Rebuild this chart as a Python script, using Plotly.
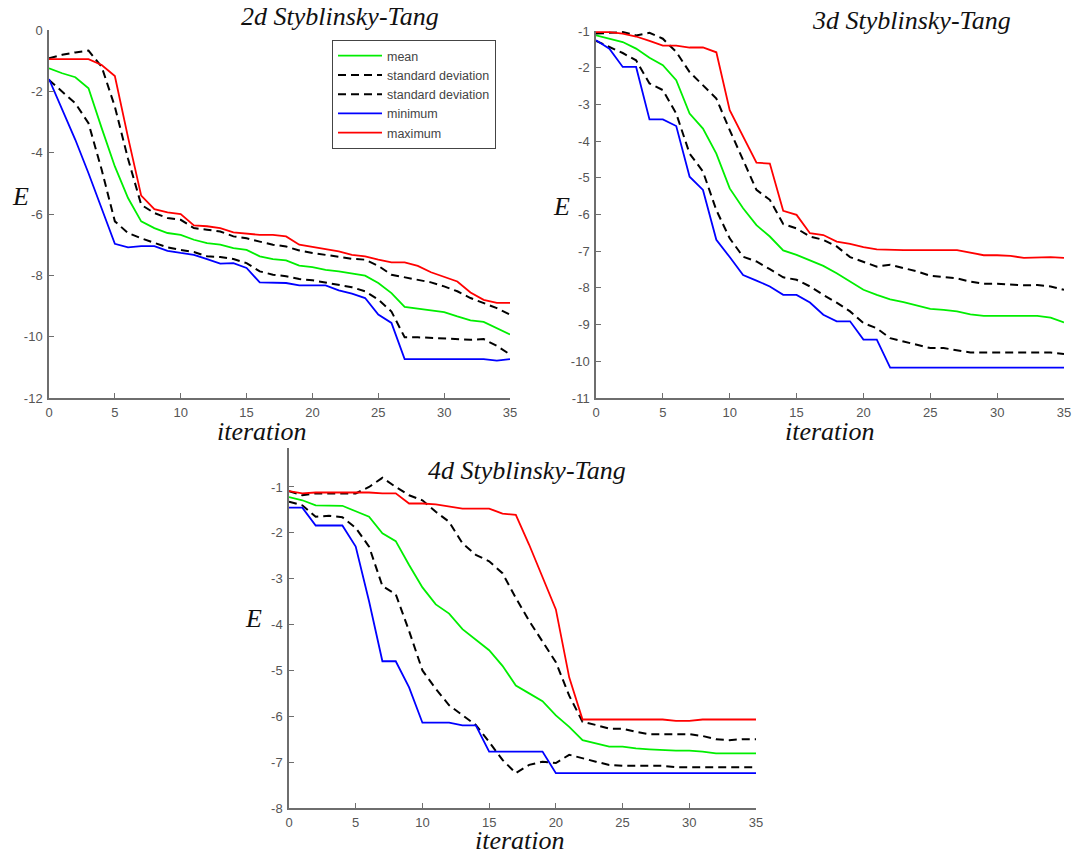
import plotly.graph_objects as go

iterations = list(range(36))

# ---- 2d Styblinsky-Tang ----
mean_2d = [-1.25, -1.41, -1.54, -1.9, -3.2, -4.45, -5.48, -6.24, -6.46, -6.62, -6.68, -6.84, -6.95, -7.0,
           -7.11, -7.17, -7.38, -7.47, -7.51, -7.68, -7.73, -7.82, -7.87, -7.93, -8.01, -8.25, -8.58, -9.03,
           -9.08, -9.14, -9.2, -9.34, -9.47, -9.52, -9.72, -9.93]
std_up_2d = [-0.92, -0.81, -0.73, -0.67, -1.2, -2.5, -4.2, -5.7, -5.97, -6.13, -6.19, -6.46, -6.51, -6.57,
             -6.73, -6.79, -6.9, -7.0, -7.06, -7.19, -7.27, -7.34, -7.4, -7.46, -7.49, -7.69, -7.98, -8.07,
             -8.14, -8.23, -8.36, -8.52, -8.74, -8.9, -9.07, -9.28]
std_low_2d = [-1.63, -2.0, -2.39, -3.04, -4.56, -6.24, -6.62, -6.79, -6.93, -7.09, -7.17, -7.24, -7.38, -7.4,
              -7.47, -7.6, -7.87, -7.98, -8.03, -8.12, -8.16, -8.23, -8.3, -8.39, -8.52, -8.79, -9.18, -10.02,
              -10.02, -10.04, -10.04, -10.08, -10.1, -10.08, -10.3, -10.58]
min_2d = [-1.6, -2.6, -3.58, -4.67, -5.8, -6.97, -7.09, -7.05, -7.05, -7.2, -7.27, -7.33, -7.47, -7.62,
          -7.6, -7.76, -8.23, -8.23, -8.25, -8.33, -8.33, -8.33, -8.49, -8.6, -8.74, -9.28, -9.55, -10.73,
          -10.73, -10.73, -10.73, -10.73, -10.73, -10.73, -10.78, -10.73]
max_2d = [-0.95, -0.95, -0.95, -0.95, -1.14, -1.5, -3.5, -5.4, -5.84, -5.95, -6.0, -6.37, -6.4, -6.46,
          -6.6, -6.65, -6.68, -6.68, -6.73, -7.0, -7.08, -7.14, -7.22, -7.33, -7.38, -7.49, -7.58, -7.58,
          -7.69, -7.9, -8.06, -8.2, -8.56, -8.8, -8.9, -8.9]

# ---- 3d Styblinsky-Tang ----
mean_3d = [-1.12, -1.21, -1.3, -1.48, -1.73, -1.93, -2.34, -3.25, -3.66, -4.34, -5.29, -5.83, -6.29, -6.6,
           -6.98, -7.1, -7.26, -7.4, -7.6, -7.83, -8.05, -8.19, -8.31, -8.39, -8.48, -8.57, -8.6, -8.64,
           -8.72, -8.76, -8.76, -8.76, -8.76, -8.76, -8.81, -8.94]
std_up_3d = [-1.07, -1.05, -1.03, -1.12, -1.05, -1.21, -1.57, -2.12, -2.48, -2.84, -3.7, -4.52, -5.33, -5.6,
             -6.26, -6.38, -6.6, -6.69, -6.87, -7.16, -7.28, -7.42, -7.37, -7.46, -7.55, -7.67, -7.71, -7.74,
             -7.83, -7.89, -7.89, -7.92, -7.93, -7.92, -7.96, -8.05]
std_low_3d = [-1.27, -1.44, -1.6, -1.8, -2.43, -2.61, -3.25, -4.34, -4.83, -5.88, -6.65, -7.15, -7.28, -7.49,
              -7.71, -7.78, -7.96, -8.19, -8.4, -8.64, -8.96, -9.1, -9.37, -9.46, -9.55, -9.64, -9.64, -9.7,
              -9.76, -9.76, -9.76, -9.76, -9.76, -9.76, -9.76, -9.8]
min_3d = [-1.25, -1.48, -1.98, -1.98, -3.41, -3.41, -3.59, -4.97, -5.33, -6.69, -7.16, -7.65, -7.8, -7.96,
          -8.19, -8.19, -8.4, -8.73, -8.91, -8.91, -9.41, -9.41, -10.17, -10.17, -10.17, -10.17, -10.17,
          -10.17, -10.17, -10.17, -10.17, -10.17, -10.17, -10.17, -10.17, -10.17]
max_3d = [-1.03, -1.03, -1.07, -1.15, -1.27, -1.4, -1.4, -1.45, -1.45, -1.58, -3.16, -3.88, -4.59, -4.61,
          -5.9, -6.01, -6.51, -6.56, -6.74, -6.8, -6.89, -6.95, -6.97, -6.97, -6.97, -6.98, -6.97, -6.97,
          -7.04, -7.11, -7.11, -7.13, -7.18, -7.16, -7.16, -7.18]

# ---- 4d Styblinsky-Tang ----
mean_4d = [-1.22, -1.29, -1.4, -1.4, -1.41, -1.53, -1.65, -2.01, -2.18, -2.7, -3.19, -3.56, -3.76, -4.1,
           -4.32, -4.56, -4.9, -5.33, -5.5, -5.67, -5.98, -6.23, -6.52, -6.59, -6.66, -6.66, -6.7, -6.72,
           -6.74, -6.75, -6.75, -6.77, -6.81, -6.81, -6.81, -6.81]
std_up_4d = [-1.09, -1.18, -1.14, -1.14, -1.14, -1.14, -1.0, -0.8, -1.0, -1.18, -1.29, -1.54, -1.76, -2.23,
             -2.48, -2.62, -2.88, -3.42, -3.92, -4.36, -4.82, -5.55, -6.12, -6.19, -6.27, -6.27, -6.34, -6.39,
             -6.39, -6.39, -6.39, -6.43, -6.5, -6.52, -6.5, -6.5]
std_low_4d = [-1.32, -1.4, -1.65, -1.63, -1.66, -1.89, -2.3, -3.16, -3.34, -4.14, -5.0, -5.4, -5.76, -5.98,
              -6.19, -6.56, -6.95, -7.24, -7.06, -6.99, -7.02, -6.84, -6.92, -6.99, -7.06, -7.08, -7.08, -7.08,
              -7.08, -7.11, -7.11, -7.11, -7.11, -7.11, -7.11, -7.11]
min_4d = [-1.45, -1.45, -1.84, -1.84, -1.84, -2.3, -3.49, -4.8, -4.8, -5.37, -6.14, -6.14, -6.14, -6.2,
          -6.2, -6.77, -6.77, -6.77, -6.77, -6.77, -7.24, -7.24, -7.24, -7.24, -7.24, -7.24, -7.24, -7.24,
          -7.24, -7.24, -7.24, -7.24, -7.24, -7.24, -7.24, -7.24]
max_4d = [-1.09, -1.14, -1.12, -1.12, -1.12, -1.12, -1.12, -1.14, -1.14, -1.36, -1.36, -1.38, -1.43, -1.47,
          -1.47, -1.47, -1.58, -1.61, -2.26, -2.98, -3.67, -5.15, -6.07, -6.07, -6.07, -6.07, -6.07, -6.07,
          -6.07, -6.1, -6.1, -6.07, -6.07, -6.07, -6.07, -6.07]

panel_titles = ["2d Styblinsky-Tang", "3d Styblinsky-Tang", "4d Styblinsky-Tang"]
series_names = ["mean", "standard deviation", "standard deviation", "minimum", "maximum"]
x_ticks = [0, 5, 10, 15, 20, 25, 30, 35]
y_ticks_2d = [0, -2, -4, -6, -8, -10, -12]
y_ticks_3d = [-1, -2, -3, -4, -5, -6, -7, -8, -9, -10, -11]
y_ticks_4d = [-1, -2, -3, -4, -5, -6, -7, -8]

panels = [
    [mean_2d, std_up_2d, std_low_2d, min_2d, max_2d],
    [mean_3d, std_up_3d, std_low_3d, min_3d, max_3d],
    [mean_4d, std_up_4d, std_low_4d, min_4d, max_4d],
]

styles = [
    dict(color="#00ee00", width=1.8),
    dict(color="black", width=2, dash="8px,5px"),
    dict(color="black", width=2, dash="8px,5px"),
    dict(color="#0000ff", width=1.8),
    dict(color="#ff0000", width=1.8),
]

W, H = 1074, 855
# pixel boxes: (left, right, top, bottom)
boxes = [(49, 510, 30, 398), (596, 1064, 31, 398), (289, 756, 448, 808)]
y_ranges = [[-12, 0], [-11, -1], [-8, -0.15]]
y_tick_sets = [y_ticks_2d, y_ticks_3d, y_ticks_4d]

fig = go.Figure()

for p, series in enumerate(panels):
    suffix = "" if p == 0 else str(p + 1)
    for s, vals in enumerate(series):
        fig.add_trace(go.Scatter(
            x=iterations, y=vals, mode="lines", name=series_names[s],
            line=styles[s], showlegend=(p == 0),
            xaxis="x" + suffix, yaxis="y" + suffix,
        ))

axis_common = dict(
    showgrid=False, zeroline=False, showline=True, linecolor="#6e6e6e", linewidth=1.5,
    ticks="inside", ticklen=5, tickwidth=1, tickcolor="#6e6e6e",
    tickfont=dict(family="Liberation Sans, Arial", size=13, color="#555555"),
    mirror=False, automargin=False,
)

layout = dict(
    width=W, height=H, margin=dict(l=0, r=0, t=0, b=0, autoexpand=False),
    paper_bgcolor="white", plot_bgcolor="white",
    legend=dict(x=332 / W, y=1 - 40 / H, xanchor="left", yanchor="top",
                bordercolor="#444444", borderwidth=1, bgcolor="white",
                font=dict(family="Liberation Sans, Arial", size=12.5, color="#444444"),
                itemwidth=44, tracegroupgap=0),
)

for p, (l, r, t, b) in enumerate(boxes):
    suffix = "" if p == 0 else str(p + 1)
    xa = dict(axis_common, domain=[l / W, r / W], range=[0, 35], anchor="y" + suffix,
              tickvals=x_ticks, ticktext=[str(v) for v in x_ticks], ticklabelstandoff=2)
    ya = dict(axis_common, domain=[1 - b / H, 1 - t / H], range=y_ranges[p], anchor="x" + suffix,
              tickvals=y_tick_sets[p], ticktext=[str(v) for v in y_tick_sets[p]], ticklabelstandoff=2)
    layout["xaxis" + suffix] = xa
    layout["yaxis" + suffix] = ya

fig.update_layout(**layout)

serif = dict(family="Liberation Serif, Times New Roman, serif", size=26, color="#111111", style="italic")
label_pos = [
    # (title x, title y, E x, E y, iteration x, iteration y)
    (340, 16, 20, 197, 262, 431),
    (911, 20, 561, 207, 830, 431),
    (527, 470, 253, 618, 520, 840),
]
for p, (tx, ty, ex, ey, ix, iy) in enumerate(label_pos):
    fig.add_annotation(text=panel_titles[p], x=tx / W, y=1 - ty / H, xref="paper", yref="paper",
                       showarrow=False, font=serif, xanchor="center", yanchor="middle")
    fig.add_annotation(text="E", x=ex / W, y=1 - ey / H, xref="paper", yref="paper",
                       showarrow=False, font=serif, xanchor="center", yanchor="middle")
    fig.add_annotation(text="iteration", x=ix / W, y=1 - iy / H, xref="paper", yref="paper",
                       showarrow=False, font=serif, xanchor="center", yanchor="middle")

fig.write_html("out.html", config={"displayModeBar": False},
               post_script="document.body.style.margin='0px';")
